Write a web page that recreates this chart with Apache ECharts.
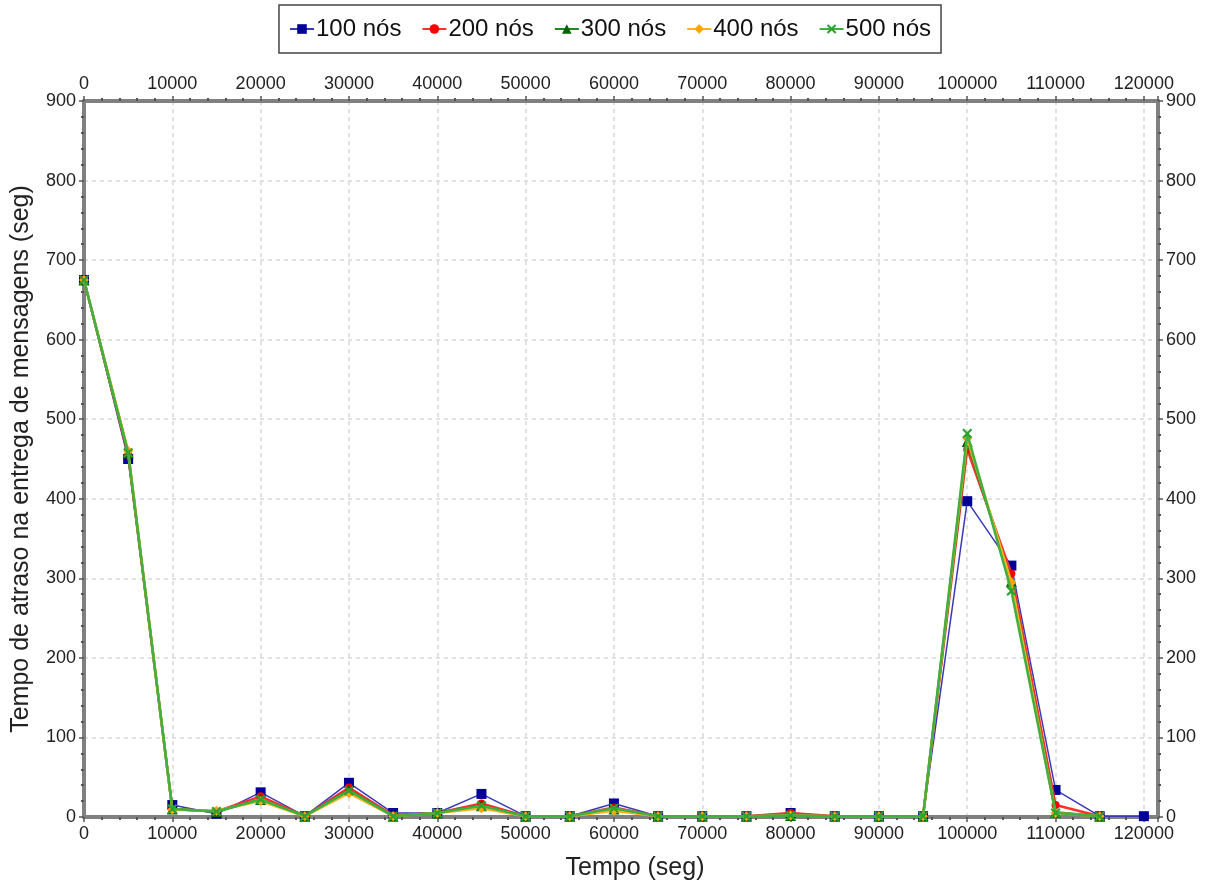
<!DOCTYPE html>
<html>
<head>
<meta charset="utf-8">
<script src="https://cdn.jsdelivr.net/npm/echarts@6/dist/echarts.min.js"></script>
<style>
html,body{margin:0;padding:0;background:#fff;}
#chart{width:1220px;height:886px;}
</style>
</head>
<body>
<div id="chart"></div>
<script>
const seriesNames = ['100 nós', '200 nós', '300 nós', '400 nós', '500 nós'];
const xValues = [0, 5000, 10000, 15000, 20000, 25000, 30000, 35000, 40000, 45000, 50000, 55000, 60000,
  65000, 70000, 75000, 80000, 85000, 90000, 95000, 100000, 105000, 110000, 115000, 120000];
const nos100 = [675, 450, 15, 4, 31, 1, 43, 5, 5, 29, 1, 1, 17, 1, 1, 1, 5, 1, 1, 1, 397, 316, 34, 1, 1];
const nos200 = [675, 455, 10, 7, 26, 1, 37, 2, 5, 17, 1, 1, 12, 1, 1, 1, 5, 1, 1, 1, 462, 306, 15, 1];
const nos300 = [675, 458, 10, 7, 22, 1, 34, 1, 5, 14, 1, 1, 10, 1, 1, 1, 2, 1, 1, 1, 472, 296, 6, 1];
const nos400 = [675, 460, 9, 8, 20, 1, 30, 1, 5, 11, 1, 1, 8, 1, 1, 1, 2, 1, 1, 1, 476, 295, 5, 1];
const nos500 = [675, 458, 10, 7, 22, 1, 33, 1, 5, 14, 1, 1, 11, 1, 1, 1, 2, 1, 1, 1, 482, 284, 5, 1];
const xTickInterval = 10000;
const yTicks = [0, 100, 200, 300, 400, 500, 600, 700, 800, 900];

const allData = [nos100, nos200, nos300, nos400, nos500];
const markerColors = ['#000099', '#ff0000', '#006400', '#ffa500', '#2ea02e'];
const lineColors = ['#3a3ab8', '#ff3030', '#1f8a1f', '#ffb020', '#40b040'];
const symbols = ['rect', 'circle', 'triangle', 'diamond',
  'path://M0,1.5L1.5,0L5,3.5L8.5,0L10,1.5L6.5,5L10,8.5L8.5,10L5,6.5L1.5,10L0,8.5L3.5,5Z'];
const symbolSizes = [10, 8, 11, 10, 10];
const lineWidths = [1.5, 2.5, 2.5, 2.5, 2.5];

const font = 'Liberation Sans, Arial, sans-serif';
const chart = echarts.init(document.getElementById('chart'), null, {renderer: 'canvas'});

function xAxisCfg(pos, withName) {
  return {
    type: 'value', position: pos, min: 0, max: 121600, interval: xTickInterval,
    name: withName ? 'Tempo (seg)' : '', nameLocation: 'middle', nameGap: 39,
    nameTextStyle: {fontSize: 25, color: '#222', fontFamily: font, padding: [0, 0, 0, 28]},
    axisLine: {show: true, onZero: false, lineStyle: {color: '#808080', width: 4}},
    axisTick: {show: true, length: 5, lineStyle: {color: '#555', width: 1.5}},
    minorTick: {show: true, splitNumber: 5, length: 3, lineStyle: {color: '#555', width: 2}},
    axisLabel: {fontSize: 18, color: '#222', fontFamily: font, margin: 8, showMaxLabel: false,
      formatter: v => String(v)},
    splitLine: {show: withName, lineStyle: {color: '#d8d8d8', type: [4, 4], width: 1.5}}
  };
}
function yAxisCfg(pos, withName) {
  return {
    type: 'value', position: pos, min: yTicks[0], max: yTicks[yTicks.length - 1], interval: 100,
    name: withName ? 'Tempo de atraso na entrega de mensagens (seg)' : '',
    nameLocation: 'middle', nameGap: 50, nameRotate: 90,
    nameTextStyle: {fontSize: 25, color: '#222', fontFamily: font},
    axisLine: {show: true, onZero: false, lineStyle: {color: '#808080', width: 4}},
    axisTick: {show: true, length: 5, lineStyle: {color: '#555', width: 1.5}},
    minorTick: {show: true, splitNumber: 5, length: 3, lineStyle: {color: '#555', width: 2}},
    axisLabel: {fontSize: 18, color: '#222', fontFamily: font, margin: 8, formatter: v => String(v)},
    splitLine: {show: withName, lineStyle: {color: '#d8d8d8', type: [4, 4], width: 1.5}}
  };
}

const series = seriesNames.map((name, i) => ({
  name: name, type: 'line',
  data: allData[i].map((v, j) => [xValues[j], v]),
  symbol: symbols[i], symbolSize: symbolSizes[i],
  showAllSymbol: true,
  lineStyle: {color: lineColors[i], width: lineWidths[i]},
  itemStyle: {color: markerColors[i]},
  emphasis: {disabled: true},
  animation: false, z: 3 + i
}));

chart.setOption({
  backgroundColor: '#ffffff',
  animation: false,
  textStyle: {fontFamily: font},
  legend: {
    top: 5, left: 'center',
    data: seriesNames,
    borderColor: '#444', borderWidth: 1.5, padding: [12, 10, 12, 10],
    itemWidth: 24, itemHeight: 12, itemGap: 20,
    textStyle: {fontSize: 24, color: '#111', fontFamily: font, padding: [0, 0, 0, -3]}
  },
  grid: {left: 84, right: 62, top: 101, bottom: 69, containLabel: false},
  xAxis: [xAxisCfg('bottom', true), xAxisCfg('top', false)],
  yAxis: [yAxisCfg('left', true), yAxisCfg('right', false)],
  series: series
});
</script>
</body>
</html>
